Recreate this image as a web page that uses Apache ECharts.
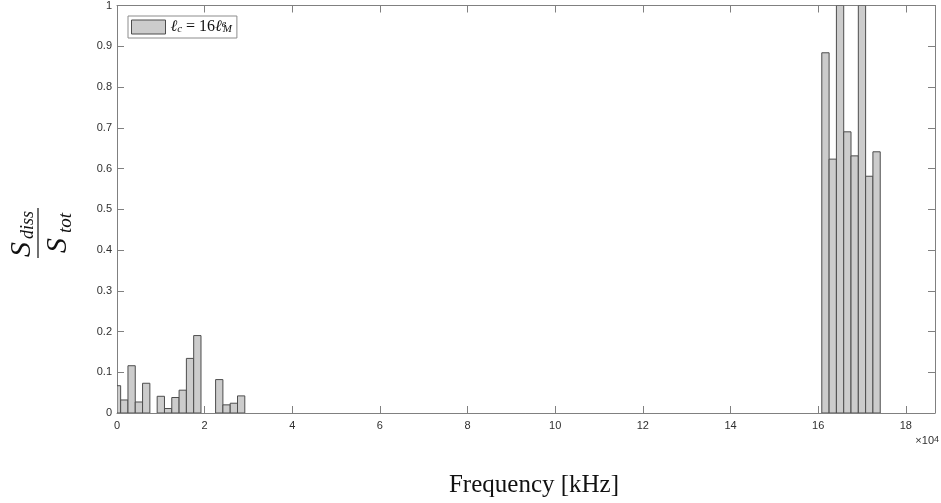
<!DOCTYPE html>
<html>
<head>
<meta charset="utf-8">
<script src="https://cdn.jsdelivr.net/npm/echarts@6/dist/echarts.min.js"></script>
<style>
  html, body { margin: 0; padding: 0; background: #ffffff; }
  #chart { width: 941px; height: 503px; }
</style>
</head>
<body>
<div id="chart"></div>
<script>
// Dissipated-to-total power ratio per frequency bin (bin centres in Hz)
const freqLow = [0, 1666.7, 3333.3, 5000, 6666.7, 10000, 11666.7, 13333.3, 15000, 16666.7, 18333.3, 23333.3, 25000, 26666.7, 28333.3];
const ratioLow = [0.067, 0.032, 0.116, 0.027, 0.073, 0.041, 0.011, 0.038, 0.056, 0.134, 0.190, 0.082, 0.020, 0.024, 0.042];
const freqHigh = [161666.7, 163333.3, 165000, 166666.7, 168333.3, 170000, 171666.7, 173333.3];
const ratioHigh = [0.884, 0.623, 1.0, 0.690, 0.631, 1.0, 0.581, 0.641];

// Axis tick labels (x in units of 10^4)
const xTickLabels = ['0', '2', '4', '6', '8', '10', '12', '14', '16', '18'];
const yTickLabels = ['0', '0.1', '0.2', '0.3', '0.4', '0.5', '0.6', '0.7', '0.8', '0.9', '1'];

const binWidth = 10000 / 6;
const xMax = 112 * binWidth;
const xStep = 20000;

const seriesName = 'ℓc = 16ℓMe';
const barData = freqLow.map((f, i) => [f, ratioLow[i]])
  .concat(freqHigh.map((f, i) => [f, ratioHigh[i]]));

const axisColor = '#808080';
const labelColor = '#303030';
const sans = 'Liberation Sans, Arial, sans-serif';
const serif = 'Liberation Serif, Times New Roman, serif';

const chart = echarts.init(document.getElementById('chart'), null, { renderer: 'canvas' });

function xLabel(v) {
  const i = Math.round(v / xStep);
  return Math.abs(v - i * xStep) < 1e-6 && i < xTickLabels.length ? xTickLabels[i] : '';
}
function yLabel(v) {
  const i = Math.round(v * 10);
  return yTickLabels[i] !== undefined ? yTickLabels[i] : '';
}

const baseX = {
  type: 'value', min: 0, max: xMax, interval: xStep,
  splitLine: { show: false },
  axisLine: { show: true, onZero: false, lineStyle: { color: axisColor, width: 1 } },
  axisTick: { show: true, inside: true, length: 7, lineStyle: { color: axisColor } }
};
const baseY = {
  type: 'value', min: 0, max: 1, interval: 0.1,
  splitLine: { show: false },
  axisLine: { show: true, onZero: false, lineStyle: { color: axisColor, width: 1 } },
  axisTick: { show: true, inside: true, length: 7, lineStyle: { color: axisColor } }
};

chart.setOption({
  animation: false,
  backgroundColor: '#ffffff',
  grid: { left: 117, right: 6, top: 5, bottom: 89 },
  xAxis: [
    Object.assign({}, baseX, {
      position: 'bottom',
      axisLabel: { show: true, margin: 7, color: labelColor, fontFamily: sans, fontSize: 11, formatter: xLabel, showMaxLabel: false },
      name: 'Frequency [kHz]',
      nameLocation: 'middle',
      nameGap: 57,
      nameTextStyle: { fontFamily: serif, fontSize: 25, color: '#111111', padding: [3, 0, 0, 16] }
    }),
    Object.assign({}, baseX, { position: 'top', axisLabel: { show: false } })
  ],
  yAxis: [
    Object.assign({}, baseY, {
      position: 'left',
      axisLabel: { show: true, margin: 5, color: labelColor, fontFamily: sans, fontSize: 11, formatter: yLabel }
    }),
    Object.assign({}, baseY, { position: 'right', axisLabel: { show: false } })
  ],
  legend: {
    show: true,
    left: 128, top: 16,
    orient: 'vertical',
    padding: [3, 5, 3, 3],
    itemWidth: 34, itemHeight: 14,
    icon: 'rect',
    backgroundColor: '#ffffff',
    borderColor: '#8c8c8c', borderWidth: 1, borderRadius: 0,
    selectedMode: false,
    itemStyle: { color: '#cccccc', borderColor: '#4d4d4d', borderWidth: 1 },
    data: [seriesName],
    formatter: function () {
      return '{a|ℓ}{s|c}{b| = 16}{a|ℓ}{e|e}{m|M}';
    },
    textStyle: {
      color: '#111111',
      fontFamily: serif,
      fontSize: 16,
      lineHeight: 16,
      rich: {
        a: { fontFamily: serif, fontStyle: 'italic', fontSize: 16, lineHeight: 16, color: '#111111' },
        b: { fontFamily: serif, fontSize: 16, lineHeight: 16, color: '#111111' },
        s: { fontFamily: serif, fontStyle: 'italic', fontSize: 11, lineHeight: 8, verticalAlign: 'bottom', color: '#111111' },
        e: { fontFamily: serif, fontStyle: 'italic', fontSize: 10, lineHeight: 8, verticalAlign: 'top', width: 1, color: '#111111' },
        m: { fontFamily: serif, fontStyle: 'italic', fontSize: 11, lineHeight: 8, verticalAlign: 'bottom', color: '#111111' }
      }
    }
  },
  series: [{
    name: seriesName,
    type: 'custom',
    xAxisIndex: 0, yAxisIndex: 0,
    clip: true,
    itemStyle: { color: '#cccccc', borderColor: '#4d4d4d', borderWidth: 1 },
    encode: { x: 0, y: 1 },
    data: barData,
    renderItem: function (params, api) {
      const f = api.value(0);
      const v = api.value(1);
      const p0 = api.coord([f - binWidth / 2, 0]);
      const p1 = api.coord([f + binWidth / 2, v]);
      const cs = params.coordSys;
      const shape = echarts.graphic.clipRectByRect(
        { x: p0[0], y: p1[1], width: p1[0] - p0[0], height: p0[1] - p1[1] },
        { x: cs.x, y: cs.y, width: cs.width, height: cs.height }
      );
      if (!shape) return null;
      return {
        type: 'rect',
        shape: shape,
        style: { fill: '#cccccc', stroke: '#4d4d4d', lineWidth: 1 }
      };
    }
  }],
  graphic: [
    {
      // exponent marker for the x axis
      type: 'text',
      right: 2, top: 435,
      style: {
        text: '×10{p|4}',
        fill: labelColor,
        font: '11px ' + sans,
        rich: { p: { fontSize: 9, lineHeight: 8, verticalAlign: 'top', fill: labelColor, fontFamily: sans } }
      }
    },
    {
      // y axis title: S_diss / S_tot, rotated
      type: 'group',
      x: 38, y: 233,
      rotation: Math.PI / 2,
      children: [
        { type: 'line', shape: { x1: -25, y1: 0, x2: 25, y2: 0 }, style: { stroke: '#111111', lineWidth: 1.2 } },
        { type: 'text', x: -24, y: -16, style: { text: 'S', font: 'italic 30px ' + serif, fill: '#111111', align: 'left', verticalAlign: 'middle' } },
        { type: 'text', x: -6, y: -9.5, style: { text: 'diss', font: 'italic 18px ' + serif, fill: '#111111', align: 'left', verticalAlign: 'middle' } },
        { type: 'text', x: -20, y: 20, style: { text: 'S', font: 'italic 30px ' + serif, fill: '#111111', align: 'left', verticalAlign: 'middle' } },
        { type: 'text', x: 0, y: 27.5, style: { text: 'tot', font: 'italic 19px ' + serif, fill: '#111111', align: 'left', verticalAlign: 'middle' } }
      ]
    }
  ]
});
</script>
</body>
</html>
